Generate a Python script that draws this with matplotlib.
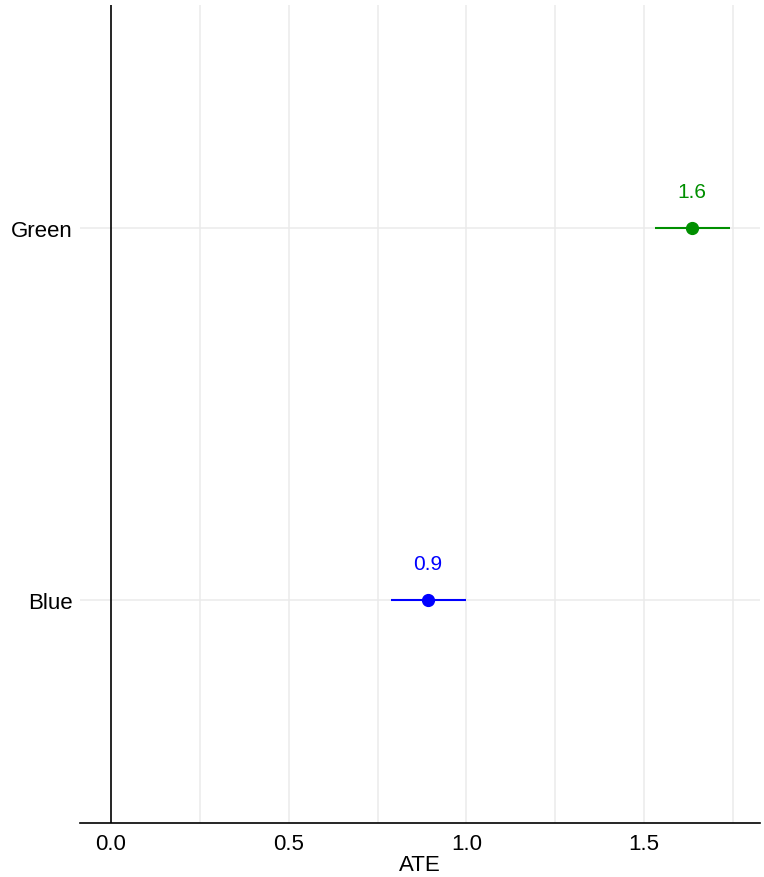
import matplotlib.pyplot as plt

plt.rcParams['font.family'] = ['Liberation Sans', 'DejaVu Sans']

groups = ["Blue", "Green"]
ate = [0.892, 1.634]
ci_low = [0.788, 1.530]
ci_high = [0.999, 1.741]
colors = ["#0000ff", "#008f00"]

fig = plt.figure(figsize=(7.64, 8.78), dpi=100)
ax = fig.add_axes([80/764, 54/878, 680/764, 818/878])

ypos = list(range(1, len(groups) + 1))

# grid: major and minor vertical lines, one horizontal per group
for gx in [0.25, 0.5, 0.75, 1.0, 1.25, 1.5, 1.75]:
    ax.axvline(gx, color="#ebebeb", lw=1.1, zorder=0)
for y in ypos:
    ax.axhline(y, color="#ebebeb", lw=1.1, zorder=0)

ax.axvline(0, color="black", lw=1.2, zorder=1)

for y, v, lo, hi, c in zip(ypos, ate, ci_low, ci_high, colors):
    ax.hlines(y, lo, hi, color=c, lw=1.5, zorder=2)
    ax.plot(v, y, "o", color=c, ms=8.5, zorder=3)
    ax.annotate(f"{v:.1f}", (v, y), xytext=(0, 26), textcoords="offset points",
                ha="center", va="center", color=c, fontsize=15)

ax.set_xlim(-0.087, 1.826)
ax.set_ylim(0.4, 2.6)
ax.set_xticks([0.0, 0.5, 1.0, 1.5])
ax.set_xticklabels(["0.0", "0.5", "1.0", "1.5"])
ax.set_yticks(ypos)
ax.set_yticklabels(groups)
ax.tick_params(axis="x", length=0, labelsize=16, pad=7)
ax.tick_params(axis="y", length=0, labelsize=16, pad=5)
ax.set_xlabel("ATE", fontsize=16, labelpad=0)

for side in ["top", "right", "left"]:
    ax.spines[side].set_visible(False)
ax.spines["bottom"].set_linewidth(1.2)

fig.savefig("out.png", dpi=100)
